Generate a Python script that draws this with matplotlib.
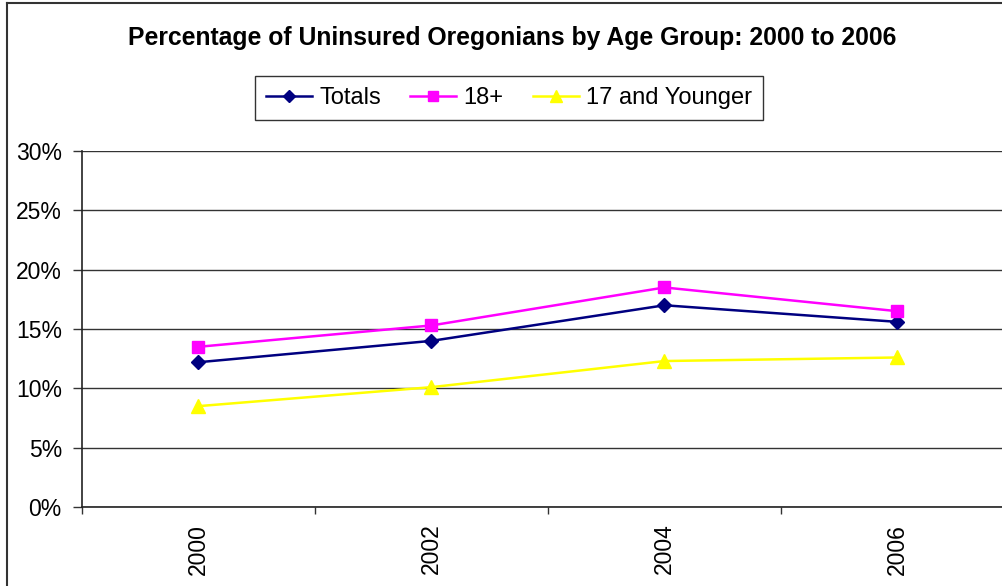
import matplotlib
matplotlib.use("Agg")
import matplotlib.pyplot as plt
from matplotlib.lines import Line2D
from matplotlib.ticker import FuncFormatter, MultipleLocator

years = ["2000", "2002", "2004", "2006"]
totals = [12.2, 14.0, 17.0, 15.6]
adults = [13.5, 15.3, 18.5, 16.5]
youth = [8.5, 10.1, 12.3, 12.6]
title = "Percentage of Uninsured Oregonians by Age Group: 2000 to 2006"

plt.rcParams['font.family'] = ['Liberation Sans', 'DejaVu Sans']

W, H = 1003, 586
fig = plt.figure(figsize=(W / 100, H / 100), dpi=100)
ax = fig.add_axes([82 / W, 79 / H, (1014 - 82) / W, (507 - 151) / H])

x = list(range(len(years)))
ax.plot(x, totals, color="#000080", lw=1.8, marker="D", ms=7.5, label="Totals")
ax.plot(x, adults, color="#FF00FF", lw=1.8, marker="s", ms=8.5, label="18+")
ax.plot(x, youth, color="#FFFF00", lw=1.8, marker="^", ms=10, label="17 and Younger")

ax.set_xlim(-0.5, len(years) - 0.5)
ax.set_ylim(0, 30)
ax.yaxis.set_major_locator(MultipleLocator(5))
ax.yaxis.set_major_formatter(FuncFormatter(lambda v, p: f"{v:.0f}%"))
ax.yaxis.grid(True, color="#333333", lw=1)
ax.set_axisbelow(True)

ax.set_xticks([i - 0.5 for i in range(len(years) + 1)])
ax.set_xticklabels([""] * (len(years) + 1))
ax.set_xticks(x, minor=True)
ax.set_xticklabels(years, minor=True, rotation=90, fontsize=16.5)
ax.tick_params(axis="x", which="minor", length=0, pad=12)
ax.tick_params(axis="x", which="major", length=5, width=1, color="#333333")
ax.tick_params(axis="y", length=6.5, width=1, color="#333333", labelsize=16.5, pad=8)

for s in ["top", "right"]:
    ax.spines[s].set_visible(False)
for s in ["left", "bottom"]:
    ax.spines[s].set_color("#222222")
    ax.spines[s].set_linewidth(1.2)

fig.text(512 / W, 1 - 45 / H, title, ha="center", va="baseline",
         fontsize=17.8, fontweight="bold")

leg = fig.legend(loc="center", bbox_to_anchor=(509 / W, 1 - 98 / H),
                 ncol=3, fontsize=17, frameon=True, fancybox=False,
                 handlelength=1.95, handletextpad=0.3, columnspacing=1.25,
                 borderpad=0.45, borderaxespad=0, edgecolor="black",
                 markerscale=0.85)
leg.get_frame().set_linewidth(1.0)

# outer chart border (left and top visible)
fig.add_artist(Line2D([7 / W, 7 / W], [0, 1 - 3 / H], color="#333333", lw=1.5,
                      transform=fig.transFigure))
fig.add_artist(Line2D([7 / W, 1], [1 - 3 / H, 1 - 3 / H], color="#333333", lw=1.5,
                      transform=fig.transFigure))

fig.savefig("out.png", dpi=100)
